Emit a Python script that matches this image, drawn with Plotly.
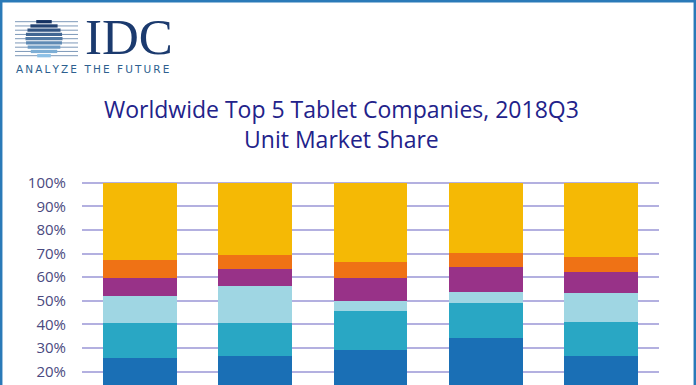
import plotly.graph_objects as go
import math

# ---- data ----
categories = ["3Q17", "4Q17", "1Q18", "2Q18", "3Q18"]
companies = ["Apple", "Samsung", "Amazon.com", "Huawei", "Lenovo", "Others"]
apple = [25.9, 26.6, 29.1, 34.3, 26.5]
samsung = [14.8, 13.9, 16.6, 14.6, 14.7]
amazon = [11.5, 15.8, 4.1, 4.8, 12.0]
huawei = [7.3, 7.2, 9.7, 10.6, 9.0]
lenovo = [7.8, 6.0, 6.9, 5.9, 6.4]
others = [32.7, 30.5, 33.6, 29.8, 31.4]
series_values = [apple, samsung, amazon, huawei, lenovo, others]
colors = ["#1A6FB5", "#29A7C4", "#9FD6E3", "#983288", "#EF7215", "#F5B905"]
tick_vals = [20, 30, 40, 50, 60, 70, 80, 90, 100]
tick_text = ["20%", "30%", "40%", "50%", "60%", "70%", "80%", "90%", "100%"]

W, H = 696, 385
ML, MR, MT, MB = 82, 37, 181, 0
PW, PH = W - ML - MR, H - MT - MB

def px(x):
    return (x - ML) / PW

def py(y):
    return (H - MB - y) / PH

fig = go.Figure()
for name, vals, col in zip(companies, series_values, colors):
    fig.add_trace(go.Bar(x=categories, y=vals, name=name, marker=dict(color=col, line=dict(width=0))))

shapes = []
# border
bc = "#2A7AB8"
shapes.append(dict(type="line", xref="paper", yref="paper", x0=px(0), x1=px(W), y0=py(1.2), y1=py(1.2), line=dict(color=bc, width=2.5)))
shapes.append(dict(type="line", xref="paper", yref="paper", x0=px(1.2), x1=px(1.2), y0=py(0), y1=py(H + 5), line=dict(color=bc, width=2.5)))
shapes.append(dict(type="line", xref="paper", yref="paper", x0=px(694.8), x1=px(694.8), y0=py(0), y1=py(H + 5), line=dict(color=bc, width=2.5)))

# logo globe
cx, cy, r = 44, 38.5, 18.5
n = 9
for i in range(n):
    yy = 21.7 + i * 4.25
    t = i / (n - 1)
    c0 = (22, 50, 98)
    c1 = (140, 192, 230)
    col = "rgb(%d,%d,%d)" % tuple(int(c0[k] + (c1[k] - c0[k]) * t) for k in range(3))
    shapes.append(dict(type="line", xref="paper", yref="paper", x0=px(15), x1=px(78), y0=py(yy), y1=py(yy),
                       line=dict(color="#7D98B8", width=1)))
    dy = yy - cy
    if abs(dy) < r:
        hw = math.sqrt(r * r - dy * dy)
        shapes.append(dict(type="line", xref="paper", yref="paper", x0=px(cx - hw), x1=px(cx + hw), y0=py(yy), y1=py(yy),
                           line=dict(color=col, width=3.3)))

ts = "\u2009"
tagline = (" " + ts).join(ts.join(w) for w in ["ANALYZE", "THE", "FUTURE"]).replace(" ", ts + " ")
annotations = [
    dict(text="IDC", xref="paper", yref="paper", x=px(83), y=py(37), xanchor="left", yanchor="middle",
         showarrow=False, font=dict(family="Liberation Serif", size=51, color="#1B3A6E")),
    dict(text=tagline, xref="paper", yref="paper", x=px(14), y=py(69), xanchor="left", yanchor="middle",
         showarrow=False, font=dict(family="DejaVu Sans", size=10.5, color="#2D5F8F")),
    dict(text="Worldwide Top 5 Tablet Companies, 2018Q3<br>Unit Market Share", xref="paper", yref="paper",
         x=px(341), y=py(124), xanchor="center", yanchor="middle", align="center", showarrow=False,
         font=dict(family="Open Sans", size=23, color="#22228A")),
]

fig.update_layout(
    width=W, height=H,
    margin=dict(l=ML, r=MR, t=MT, b=MB, pad=0),
    barmode="stack", bargap=0.36,
    showlegend=False,
    paper_bgcolor="white", plot_bgcolor="white",
    shapes=shapes, annotations=annotations,
    xaxis=dict(showticklabels=False, showgrid=False, zeroline=False, showline=False, ticks=""),
    yaxis=dict(range=[100 + 1.7 / 2.3625 - PH / 2.3625, 100 + 1.7 / 2.3625], tickvals=tick_vals, ticktext=tick_text,
               showgrid=True, gridcolor="#B3B0E0", gridwidth=2, zeroline=False, showline=False,
               ticks="", ticklabelstandoff=15,
               tickfont=dict(family="Open Sans", size=15, color="#4A4A80")),
)

fig.write_html("out.html", config={"displayModeBar": False},
               post_script="document.body.style.margin='0';document.body.style.overflow='hidden';")
